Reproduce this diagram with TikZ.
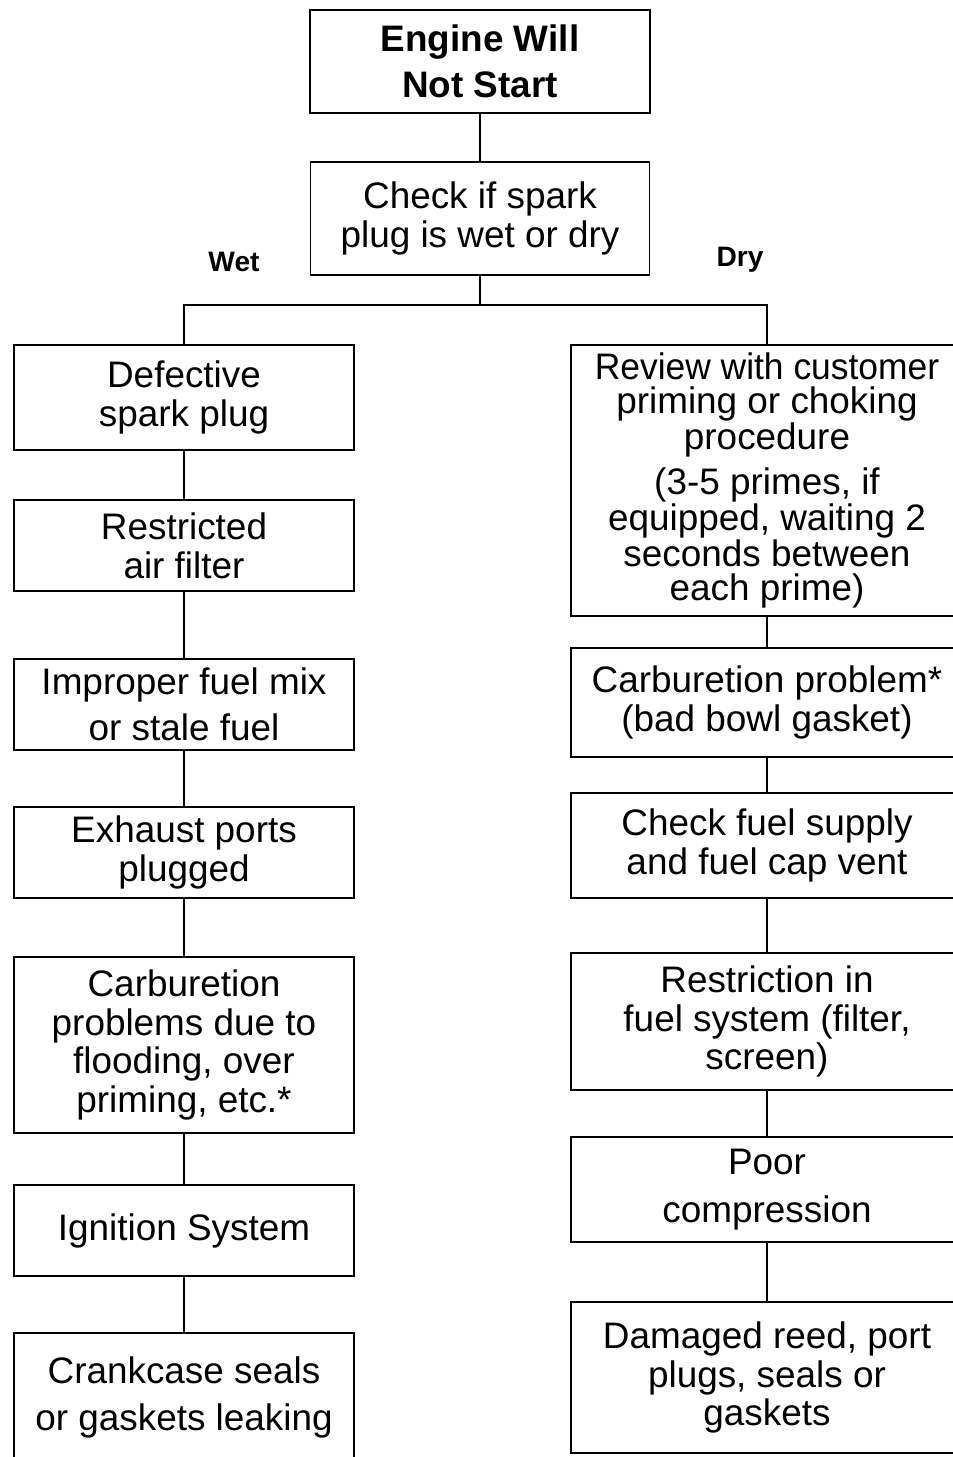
\documentclass[tikz,border=0pt]{standalone}
\usepackage{fontspec}
\setmainfont{Liberation Sans}
\usetikzlibrary{positioning}
\tikzset
{
    leftbox/.style  = {rectangle, draw=black, line width=0.8pt, align=center, inner sep=0pt, minimum width=6.8cm, font=\fontsize{21}{22}\selectfont},
    rightbox/.style = {rectangle, draw=black, line width=0.8pt, align=center, inner sep=0pt, minimum width=7.84cm, font=\fontsize{21}{22}\selectfont},
    branch/.style   = {font=\bfseries\fontsize{16}{18}\selectfont},
    link/.style     = {line width=0.8pt}
}

\begin{document}
\begin{tikzpicture}[x=0.02cm, y=-0.02cm]
\clip (0,0) rectangle (953,1457);
\node[leftbox, minimum height=2.06cm, font=\bfseries\fontsize{21}{22}\selectfont] (start) at (480,61.5) {Engine Will\\[4pt]Not Start};
\node[leftbox, minimum width=6.78cm, minimum height=2.26cm] (check) at (480,218.5) {Check if spark\\plug is wet or dry};
\node[branch] (wet) at (234,262) {Wet};
\node[branch] (dry) at (740,260) {Dry};
\coordinate (split) at (480,305);

% wet side
\node[leftbox, minimum height=2.1cm]  (defect)    at (184,397.5)  {Defective\\spark plug};
\node[leftbox, minimum height=1.82cm] (filter)    at (184,545.5)  {Restricted\\air filter};
\node[leftbox, minimum height=1.82cm] (fuelmix)   at (184,704.5)  {Improper fuel mix\\[4.5pt]or stale fuel};
\node[leftbox, minimum height=1.82cm] (exhaust)   at (184,852.5)  {Exhaust ports\\plugged};
\node[leftbox, minimum height=3.52cm] (flood)     at (184,1045)   {Carburetion\\problems due to\\flooding, over\\priming, etc.*};
\node[leftbox, minimum height=1.82cm] (ignition)  at (184,1230.5) {Ignition System};
\node[leftbox, minimum height=2.58cm] (crankcase) at (184,1397.5) {Crankcase seals\\[4.5pt]or gaskets leaking};

% dry side
\node[rightbox, minimum height=5.42cm, font=\fontsize{21}{19}\selectfont] (review) at (767,480.5)
  {\scalebox{0.96}[1]{Review with customer}\\priming or choking\\procedure\\[5pt](3-5 primes, if\\equipped, waiting 2\\seconds between\\each prime)};
\node[rightbox, minimum height=2.18cm] (carb)     at (767,702.5)  {Carburetion problem*\\(bad bowl gasket)};
\node[rightbox, minimum height=2.1cm]  (supply)   at (767,845.5)  {Check fuel supply\\and fuel cap vent};
\node[rightbox, minimum height=2.74cm] (restrict) at (767,1021.5) {Restriction in\\fuel system (filter,\\screen)};
\node[rightbox, minimum height=2.1cm]  (compress) at (767,1189.5) {Poor\\[5pt]compression};
\node[rightbox, minimum height=3.02cm] (reed)     at (767,1377.5) {Damaged reed, port\\plugs, seals or\\gaskets};

\draw[link] (start) -- (check);
\draw[link] (check) -- (split);
\draw[link] (defect.north) |- (split) -| (review.north);
\draw[link] (defect) -- (filter);
\draw[link] (filter) -- (fuelmix);
\draw[link] (fuelmix) -- (exhaust);
\draw[link] (exhaust) -- (flood);
\draw[link] (flood) -- (ignition);
\draw[link] (ignition) -- (crankcase);
\draw[link] (review) -- (carb);
\draw[link] (carb) -- (supply);
\draw[link] (supply) -- (restrict);
\draw[link] (restrict) -- (compress);
\draw[link] (compress) -- (reed);
\end{tikzpicture}
\end{document}
